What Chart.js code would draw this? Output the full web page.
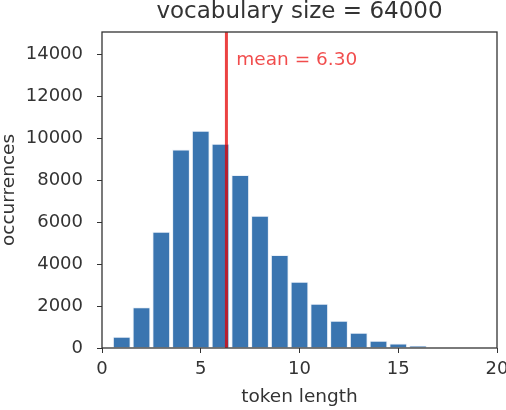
<!DOCTYPE html>
<html>
<head>
<meta charset="utf-8">
<script src="https://cdn.jsdelivr.net/npm/chart.js@4.4.1/dist/chart.umd.min.js"></script>
<style>
  html, body { margin: 0; padding: 0; background: #fff; }
</style>
</head>
<body>
<canvas id="chart" width="506" height="410"></canvas>
<script>
// histogram of token lengths
const tokenLengths = [1, 2, 3, 4, 5, 6, 7, 8, 9, 10, 11, 12, 13, 14, 15, 16];
const occurrences = [540, 1940, 5540, 9460, 10350, 9730, 8240, 6300, 4430, 3160, 2110, 1300, 730, 350, 210, 110];
const meanLength = 6.30;
const xTicks = [0, 5, 10, 15, 20];
const yTicks = [0, 2000, 4000, 6000, 8000, 10000, 12000, 14000];
const yMax = 15060;

const ink = "#333";
const font = "DejaVu Sans";

// box around the axes + the mean label
const frame = {
  id: "frame",
  afterDraw(chart) {
    const { ctx, chartArea: a, scales } = chart;
    ctx.save();
    ctx.strokeStyle = ink;
    ctx.lineWidth = 1.3;
    ctx.strokeRect(a.left, a.top, a.right - a.left, a.bottom - a.top);

    ctx.fillStyle = "rgba(235,0,0,0.7)";
    ctx.font = "18.5px '" + font + "'";
    ctx.textBaseline = "alphabetic";
    ctx.textAlign = "left";
    ctx.fillText("mean = " + meanLength.toFixed(2),
      scales.x.getPixelForValue(meanLength + 0.5),
      scales.y.getPixelForValue(13500));
    ctx.restore();
  }
};

const bars = tokenLengths.map((x, i) => ({ x: x, y: occurrences[i] }));

new Chart(document.getElementById("chart"), {
  type: "bar",
  data: {
    datasets: [
      {
        type: "line",
        data: [{ x: meanLength, y: 0 }, { x: meanLength, y: yMax }],
        borderColor: "rgba(228,0,0,0.74)",
        borderWidth: 3,
        pointRadius: 0,
        order: 0
      },
      {
        data: bars,
        backgroundColor: "#3a75b0",
        borderColor: "rgba(215,228,242,0.5)",
        borderWidth: 1,
        barPercentage: 0.9,
        categoryPercentage: 1,
        order: 1
      }
    ]
  },
  options: {
    responsive: false,
    devicePixelRatio: 1,
    animation: false,
    layout: { padding: { left: 0, right: 9, top: 0, bottom: 0 } },
    plugins: {
      legend: { display: false },
      tooltip: { enabled: false },
      title: {
        display: true,
        text: "vocabulary size = 64000",
        color: ink,
        fullSize: false,
        font: { family: font, size: 23, weight: "normal", lineHeight: 1 },
        padding: { top: 1, bottom: 8 }
      }
    },
    scales: {
      x: {
        type: "linear",
        min: 0,
        max: 20,
        offset: false,
        afterBuildTicks: s => { s.ticks = xTicks.map(v => ({ value: v })); },
        afterFit: s => { s.height = 62; s.paddingLeft = 0; s.paddingRight = 0; },
        grid: { display: true, offset: false, drawOnChartArea: false, drawTicks: true, tickLength: 5, color: ink },
        border: { display: false },
        ticks: { color: ink, padding: 6, maxRotation: 0, font: { family: font, size: 18 }, callback: v => String(v) },
        title: {
          display: true,
          text: "token length",
          color: ink,
          font: { family: font, size: 18.5, lineHeight: 1 },
          padding: { top: 0, bottom: 4 }
        }
      },
      y: {
        min: 0,
        max: yMax,
        afterBuildTicks: s => { s.ticks = yTicks.map(v => ({ value: v })); },
        afterFit: s => { s.width = 102; },
        grid: { display: true, drawOnChartArea: false, drawTicks: true, tickLength: 5, color: ink },
        border: { display: false },
        ticks: { color: ink, padding: 14, font: { family: font, size: 18 }, callback: v => String(v) },
        title: {
          display: true,
          text: "occurrences",
          color: ink,
          font: { family: font, size: 18.5, lineHeight: 1 },
          padding: { top: 0, bottom: 0 }
        }
      }
    }
  },
  plugins: [frame]
});
</script>
</body>
</html>
